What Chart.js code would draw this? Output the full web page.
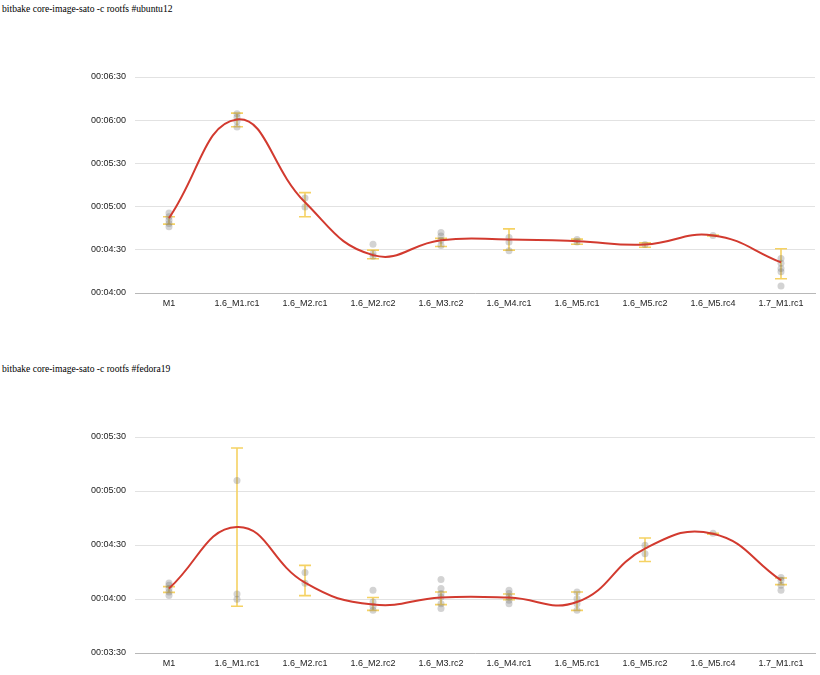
<!DOCTYPE html>
<html>
<head>
<meta charset="utf-8">
<script src="https://cdn.jsdelivr.net/npm/chart.js@4/dist/chart.umd.min.js"></script>
<style>
  html, body { margin: 0; padding: 0; background: #fff; width: 820px; height: 675px; overflow: hidden; }
  .title { position: absolute; left: 2px; font: 9.6px "Liberation Serif", "Times New Roman", serif; color: #000; white-space: nowrap; }
  canvas { position: absolute; left: 0; }
</style>
</head>
<body>
<div class="title" style="top:3px">bitbake core-image-sato -c rootfs #ubuntu12</div>
<canvas id="c1" width="820" height="320" style="top:0px"></canvas>
<div class="title" style="top:363px">bitbake core-image-sato -c rootfs #fedora19</div>
<canvas id="c2" width="820" height="320" style="top:360px"></canvas>
<script>
// Categories (builds)
const categories = ['M1','1.6_M1.rc1','1.6_M2.rc1','1.6_M2.rc2','1.6_M3.rc2','1.6_M4.rc1','1.6_M5.rc1','1.6_M5.rc2','1.6_M5.rc4','1.7_M1.rc1'];

// ubuntu12 (values in seconds)
const ubuntuMean    = [292, 360.5, 303, 266.3, 276.7, 277.2, 276, 273.7, 280, 261.3];
const ubuntuErrLow  = [287.8, 355.4, 292.9, 263.8, 272.3, 269.8, 273.9, 271.8, 279.7, 249.9];
const ubuntuErrHigh = [292.9, 364.9, 309.7, 269.8, 277.9, 284.5, 277.4, 274.8, 280.3, 270.7];
const ubuntuRuns = [
  [295.6, 292.9, 290.6, 288.3, 286],
  [364.4, 362.1, 359.3, 355.2],
  [306, 299.8],
  [273.9, 267.5, 265.6],
  [282, 279.5, 276.7, 273],
  [278.6, 275.5, 269.3],
  [277.2, 275.5],
  [273.7],
  [280],
  [264, 260.6, 257.1, 254.8, 244.9]
];
const ubuntuTicks = [240, 270, 300, 330, 360, 390];

// fedora19 (values in seconds)
const fedoraMean    = [245.8, 280, 249.1, 236.9, 240.9, 240.8, 238.3, 268, 276.3, 250.4];
const fedoraErrLow  = [243.7, 236, 241.9, 233.7, 236.9, 239.6, 233.7, 260.8, 276.0, 248];
const fedoraErrHigh = [246.9, 323.9, 258.7, 240.8, 243.9, 242.8, 243.9, 273.9, 276.5, 251.7];
const fedoraRuns = [
  [248.9, 247.6, 245.8, 243.9, 242],
  [305.8, 242.8, 239.8],
  [254.7, 248.7],
  [244.8, 238.3, 236, 233.7],
  [250.8, 245.8, 243, 241.1, 237.4, 234.7],
  [244.8, 243, 241.1, 239.3, 237.4],
  [243.9, 240.2, 237.4, 233.7],
  [269.8, 265.2],
  [276.5],
  [251.9, 250.4, 247.6, 244.8]
];
const fedoraTicks = [210, 240, 270, 300, 330];

function fmtTime(v) {
  const h = Math.floor(v / 3600), m = Math.floor((v % 3600) / 60), s = Math.round(v % 60);
  const p = n => String(n).padStart(2, '0');
  return p(h) + ':' + p(m) + ':' + p(s);
}

const errorBarPlugin = {
  id: 'errorBars',
  beforeDatasetsDraw(chart, args, opts) {
    const ctx = chart.ctx, xs = chart.scales.x, ys = chart.scales.y;
    const lows = opts.lows || [], highs = opts.highs || [];
    ctx.save();
    ctx.strokeStyle = '#f5d263';
    ctx.lineWidth = 1.6;
    for (let i = 0; i < lows.length; i++) {
      const px = xs.getPixelForValue(i);
      const yl = ys.getPixelForValue(lows[i]);
      const yh = ys.getPixelForValue(highs[i]);
      ctx.beginPath();
      ctx.moveTo(px, yl); ctx.lineTo(px, yh);
      ctx.moveTo(px - 6, yl); ctx.lineTo(px + 6, yl);
      ctx.moveTo(px - 6, yh); ctx.lineTo(px + 6, yh);
      ctx.stroke();
    }
    ctx.restore();
  }
};

function build(id, mean, lows, highs, runs, ticks) {
  const pts = [];
  runs.forEach((arr, i) => arr.forEach(v => pts.push({ x: categories[i], y: v })));
  new Chart(document.getElementById(id), {
    type: 'line',
    data: {
      labels: categories,
      datasets: [
        {
          data: mean,
          borderColor: '#d23a2f',
          borderWidth: 2,
          tension: 0.45,
          pointRadius: 0,
          fill: false,
          order: 0
        },
        {
          data: pts,
          showLine: false,
          pointRadius: 3.5,
          pointBorderWidth: 0,
          pointBackgroundColor: 'rgba(110,110,110,0.3)',
          pointBorderColor: 'rgba(0,0,0,0)',
          order: 1
        }
      ]
    },
    options: {
      responsive: false,
      animation: false,
      devicePixelRatio: 1,
      layout: { padding: { top: 77, left: 0, right: 5, bottom: 7 } },
      plugins: {
        legend: { display: false },
        tooltip: { enabled: false },
        errorBars: { lows: lows, highs: highs }
      },
      scales: {
        x: {
          type: 'category',
          offset: true,
          grid: { display: false, drawTicks: false },
          border: { display: true, color: '#b8b8b8', width: 1 },
          ticks: { color: '#222', font: { family: 'Liberation Sans, Arial, sans-serif', size: 9 }, padding: 5, maxRotation: 0, autoSkip: false },
          afterFit(s) { s.height = 20; }
        },
        y: {
          min: ticks[0],
          max: ticks[ticks.length - 1],
          afterBuildTicks(s) { s.ticks = ticks.map(v => ({ value: v })); },
          grid: { color: '#e2e2e2', drawTicks: false },
          border: { display: false },
          ticks: { color: '#222', font: { family: 'Liberation Sans, Arial, sans-serif', size: 9 }, padding: 9, callback: v => fmtTime(v) },
          afterFit(s) { s.width = 135; }
        }
      }
    },
    plugins: [errorBarPlugin]
  });
}

build('c1', ubuntuMean, ubuntuErrLow, ubuntuErrHigh, ubuntuRuns, ubuntuTicks);
build('c2', fedoraMean, fedoraErrLow, fedoraErrHigh, fedoraRuns, fedoraTicks);
</script>
</body>
</html>
